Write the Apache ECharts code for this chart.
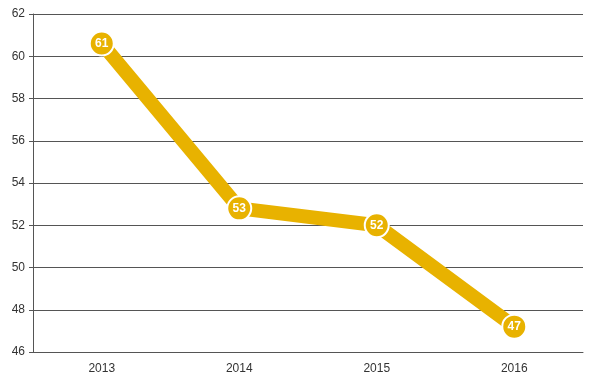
<!DOCTYPE html>
<html><head><meta charset="utf-8">
<script src="https://cdn.jsdelivr.net/npm/echarts@6/dist/echarts.min.js"></script>
<style>html,body{margin:0;padding:0;background:#fff}#c{width:594px;height:384px}</style>
</head><body><div id="c"></div>
<script>
const categories = ['2013', '2014', '2015', '2016'];
const values = [60.6, 52.8, 52.0, 47.2];
const yTicks = { min: 46, max: 62, interval: 2 };

const chart = echarts.init(document.getElementById('c'), null, { renderer: 'canvas' });
chart.setOption({
  animation: false,
  backgroundColor: '#fff',
  textStyle: { fontFamily: 'Liberation Sans, Arial, sans-serif' },
  grid: { left: 33, right: 11, top: 14, bottom: 32, containLabel: false },
  xAxis: {
    type: 'category', data: categories, boundaryGap: true,
    axisLine: { show: true, lineStyle: { color: '#555', width: 1 } },
    axisTick: { show: false },
    axisLabel: { color: '#333', fontSize: 12, margin: 11 },
    splitLine: { show: false }
  },
  yAxis: {
    type: 'value', min: yTicks.min, max: yTicks.max, interval: yTicks.interval,
    axisLine: { show: true, lineStyle: { color: '#555', width: 1 } },
    axisTick: { show: true, length: 4, lineStyle: { color: '#555' } },
    axisLabel: { color: '#333', fontSize: 12, margin: 8 },
    splitLine: { show: true, lineStyle: { color: '#555', width: 1 } }
  },
  series: [{
    type: 'line', data: values,
    lineStyle: { color: '#E8B200', width: 14 },
    itemStyle: { color: '#E8B200', borderColor: '#fff', borderWidth: 2 },
    symbol: 'circle', symbolSize: 24, showAllSymbol: true,
    label: {
      show: true, position: 'inside', color: '#fff', fontWeight: 'bold', fontSize: 12,
      formatter: p => Math.round(p.value)
    }
  }]
});
</script></body></html>
